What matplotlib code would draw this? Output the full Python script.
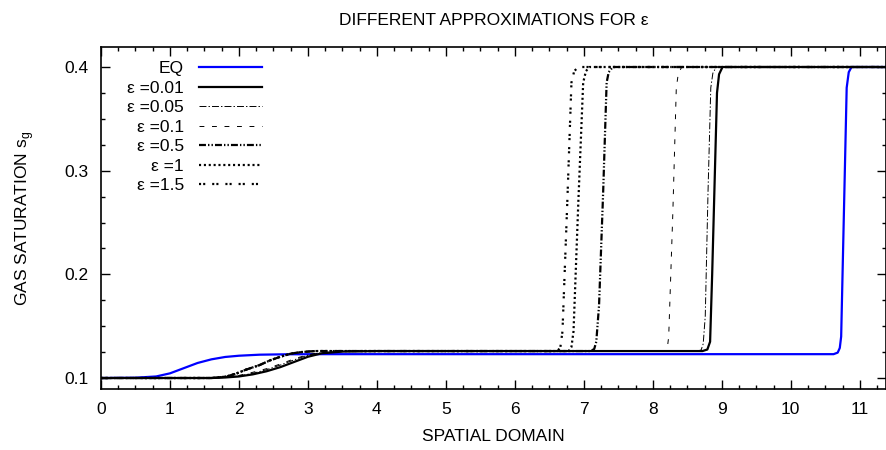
import matplotlib
matplotlib.use("Agg")
import matplotlib.pyplot as plt
from matplotlib.ticker import MultipleLocator

plt.rcParams['font.family'] = ['Liberation Sans', 'DejaVu Sans']
plt.rcParams['lines.scale_dashes'] = False

# values
x_eq = [0, 0.5, 0.8, 1.0, 1.2, 1.4, 1.6, 1.8, 2.0, 2.3, 2.7, 3.2,
        10.62, 10.68, 10.71, 10.73, 10.77, 10.81, 10.84, 10.88, 11.38]
y_eq = [0.1, 0.1003, 0.1015, 0.1045, 0.1095, 0.1145, 0.118, 0.1203, 0.1215, 0.1225, 0.1229, 0.123,
        0.123, 0.1245, 0.129, 0.14, 0.26, 0.38, 0.395, 0.4, 0.4]

x_001 = [0, 1.6, 1.8, 2.0, 2.2, 2.4, 2.6, 2.8, 3.0, 3.2, 3.5, 4.0,
         8.72, 8.79, 8.83, 8.86, 8.90, 8.93, 8.96, 9.01, 11.38]
y_001 = [0.1, 0.1, 0.1005, 0.1015, 0.1035, 0.1065, 0.1105, 0.1155, 0.1205, 0.1238, 0.1255, 0.126,
         0.126, 0.1275, 0.135, 0.2, 0.3, 0.375, 0.393, 0.4, 0.4]

x_005 = [0, 1.6, 1.8, 2.0, 2.2, 2.4, 2.6, 2.8, 3.0, 3.2, 3.5, 4.0,
         8.64, 8.70, 8.73, 8.76, 8.80, 8.84, 8.87, 8.92, 11.38]
y_005 = [0.1, 0.1, 0.1008, 0.102, 0.1045, 0.108, 0.1125, 0.1175, 0.122, 0.1245, 0.1258, 0.126,
         0.126, 0.127, 0.133, 0.16, 0.28, 0.38, 0.394, 0.4, 0.4]

x_01 = [0, 1.6, 1.8, 2.0, 2.2, 2.4, 2.6, 2.8, 3.0, 3.2, 3.5, 4.0,
        8.16, 8.21, 8.23, 8.26, 8.29, 8.34, 8.37, 8.42, 11.38]
y_01 = [0.1, 0.1, 0.101, 0.1025, 0.1055, 0.109, 0.1135, 0.1185, 0.1225, 0.1248, 0.1258, 0.126,
        0.126, 0.129, 0.14, 0.2, 0.26, 0.38, 0.394, 0.4, 0.4]

x_05 = [0, 1.6, 1.8, 1.95, 2.1, 2.3, 2.45, 2.6, 2.75, 2.9, 3.1, 4.0,
        7.10, 7.15, 7.18, 7.22, 7.28, 7.33, 7.36, 7.42, 11.38]
y_05 = [0.1, 0.1, 0.1012, 0.104, 0.108, 0.1125, 0.117, 0.1205, 0.1235, 0.125, 0.126, 0.126,
        0.126, 0.128, 0.135, 0.17, 0.28, 0.385, 0.395, 0.4, 0.4]

x_1 = [0, 1.6, 1.8, 1.95, 2.1, 2.3, 2.45, 2.6, 2.75, 2.9, 3.1, 4.0,
       6.78, 6.82, 6.85, 6.92, 6.99, 7.03, 7.08, 11.38]
y_1 = [0.1, 0.1, 0.1012, 0.104, 0.108, 0.1125, 0.117, 0.1205, 0.1235, 0.125, 0.126, 0.126,
       0.126, 0.13, 0.145, 0.27, 0.385, 0.396, 0.4, 0.4]

x_15 = [0, 1.6, 1.8, 1.95, 2.1, 2.3, 2.45, 2.6, 2.75, 2.9, 3.1, 4.0,
        6.62, 6.66, 6.69, 6.76, 6.82, 6.86, 6.92, 11.38]
y_15 = [0.1, 0.1, 0.1012, 0.104, 0.108, 0.1125, 0.117, 0.1205, 0.1235, 0.125, 0.126, 0.126,
        0.126, 0.13, 0.145, 0.27, 0.385, 0.396, 0.4, 0.4]

fig = plt.figure(figsize=(8.87, 4.5), dpi=100)
ax = fig.add_axes([101 / 887, 1 - 389 / 450, 785 / 887, 342 / 450])

ax.plot(x_eq, y_eq, color='#0000ff', lw=1.6, label='EQ')
ax.plot(x_001, y_001, color='black', lw=1.6, label='\u03b5 =0.01')
ax.plot(x_005, y_005, color='black', lw=0.7, dashes=(5, 1.5, 1, 1.5), label='\u03b5 =0.05')
ax.plot(x_01, y_01, color='black', lw=0.7, dashes=(3.5, 5.5), label='\u03b5 =0.1')
ax.plot(x_05, y_05, color='black', lw=1.6, dashes=(5, 1.5, 1, 1.5, 1, 1.5), label='\u03b5 =0.5')
ax.plot(x_1, y_1, color='black', lw=1.6, dashes=(1.5, 2), label='\u03b5 =1')
ax.plot(x_15, y_15, color='black', lw=1.6, dashes=(1.5, 1.5, 1.5, 5), label='\u03b5 =1.5')

ax.set_xlim(0, 11.38)
ax.set_ylim(0.0894, 0.4193)
ax.xaxis.set_major_locator(MultipleLocator(1))
ax.xaxis.set_minor_locator(MultipleLocator(0.25))
ax.yaxis.set_major_locator(MultipleLocator(0.1))
ax.yaxis.set_minor_locator(MultipleLocator(0.025))
ax.tick_params(which='both', direction='in', top=True, right=True, width=1, labelsize=12.5)
ax.tick_params(which='major', length=6.5, pad=9)
ax.tick_params(which='minor', length=3.2)
for s in ax.spines.values():
    s.set_linewidth(1.2)

ax.set_xlabel('SPATIAL DOMAIN', fontsize=12.5, labelpad=9)
ax.set_ylabel(r'GAS SATURATION s$_\mathregular{g}$', fontsize=12.5, labelpad=20)
ax.set_title('DIFFERENT APPROXIMATIONS FOR \u03b5', fontsize=12.5, pad=16)

leg = ax.legend(loc='upper right', bbox_to_anchor=(262 / 887, 1 - 61 / 450),
                bbox_transform=fig.transFigure, frameon=False, markerfirst=False,
                fontsize=12.5, handlelength=3.6, handletextpad=0.9, labelspacing=0.25,
                borderpad=0, borderaxespad=0)

fig.savefig('out.png', dpi=100)
